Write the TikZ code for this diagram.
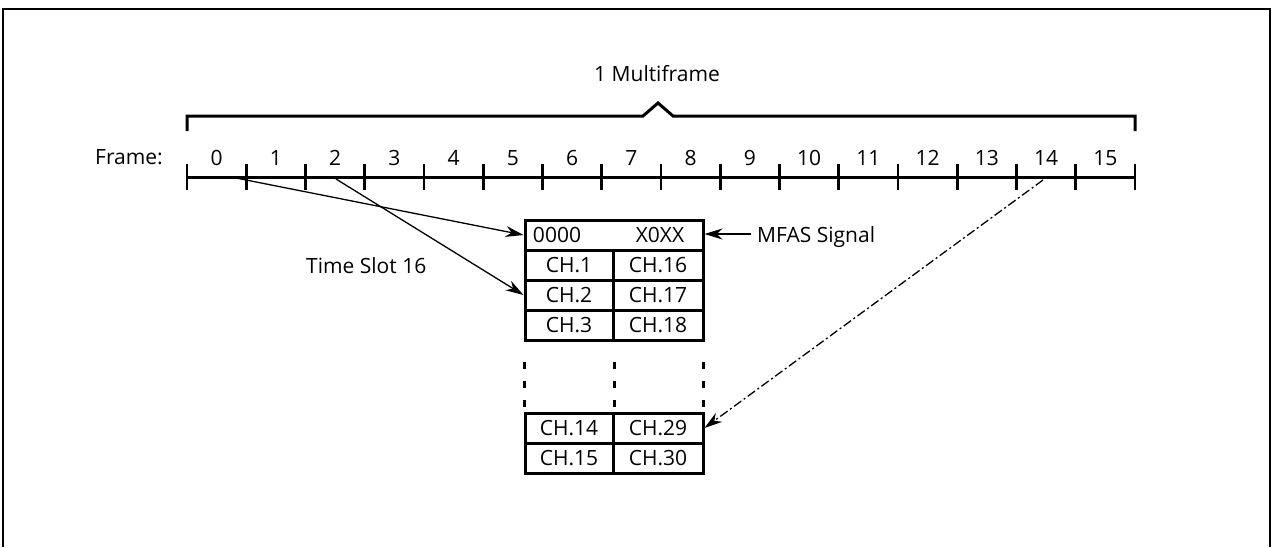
\documentclass[tikz,border=0pt]{standalone}
\usepackage{fontspec}
\setmainfont{Open Sans}
\usetikzlibrary{arrows.meta}
\begin{document}
\begin{tikzpicture}[x=1pt,y=-1pt,
  lbl/.style={font=\fontsize{21}{24}\selectfont, inner sep=0pt},
  heavy/.style={line width=3pt},
  tick/.style={line width=2.8pt},
  cell/.style={draw, line width=3pt, minimum height=30pt, inner sep=0pt,
               font=\fontsize{21}{24}\selectfont},
  ptr/.style={line width=1.3pt, -{Stealth[length=18pt,width=11pt]}},
  dashv/.style={line width=2.4pt, dash pattern=on 7pt off 12pt}]
\useasboundingbox (0,0) rectangle (1274,547);
% outer frame
\draw[line width=2.2pt] (3,547) -- (3,9) -- (1270,9) -- (1270,547);
% bracket
\draw[heavy] (187,131) -- (187,116) -- (643,116) -- (658,103) -- (673,116) -- (1135,116) -- (1135,131);
\node[lbl, anchor=base] (mf) at (657,81) {1 Multiframe};
% timeline
\node[lbl, anchor=base east] (frm) at (163,164) {Frame:};
\draw[heavy] (187,177) -- (1135,177);
\foreach \i in {0,...,16} {
  \coordinate (t\i) at ({187+59.25*\i},177);
  \draw[tick] ({187+59.25*\i},164) -- ({187+59.25*\i},190);
}
\foreach \i in {0,...,15} {
  \node[lbl, anchor=base] (f\i) at ({187+59.25*(\i+0.5)},165) {\i};
}
\coordinate (s0) at (236,178);
\coordinate (s2) at (336,179);
\coordinate (s14) at (1043,180);
% table
\node[cell, minimum width=178pt] (mfas) at (614,235) {};
\node[font=\fontsize{21}{24}\selectfont, inner sep=0pt] (z) at (557,235) {0000};
\node[font=\fontsize{21}{24}\selectfont, inner sep=0pt] (x) at (660,235) {X0XX};
\node[cell, minimum width=88pt] (c1) at (569,265) {CH.1};
\node[cell, minimum width=90pt] (c16) at (658,265) {CH.16};
\node[cell, minimum width=88pt] (c2) at (569,295) {CH.2};
\node[cell, minimum width=90pt] (c17) at (658,295) {CH.17};
\node[cell, minimum width=88pt] (c3) at (569,325) {CH.3};
\node[cell, minimum width=90pt] (c18) at (658,325) {CH.18};
\node[cell, minimum width=88pt] (c14) at (569,428) {CH.14};
\node[cell, minimum width=90pt] (c29) at (658,428) {CH.29};
\node[cell, minimum width=88pt] (c15) at (569,458) {CH.15};
\node[cell, minimum width=90pt] (c30) at (658,458) {CH.30};
% dashed continuation
\draw[dashv] (c3.south west) ++(1,20) -- ++(0,52);
\draw[dashv] (c3.south east) ++(0,20) -- ++(0,52);
\draw[dashv] (c18.south east) ++(-1,20) -- ++(0,52);
% labels
\node[lbl, anchor=base west] (ts) at (306,273) {Time Slot 16};
\node[lbl, anchor=base west] (sig) at (757,242) {MFAS Signal};
\coordinate (sigs) at (751,234);
% arrows
\draw[ptr] (s0) -- (mfas.west);
\draw[ptr] (s2) -- (c2.west);
\draw[ptr, dash pattern=on 9pt off 3pt on 2pt off 3pt] (s14) -- (c29.east);
\draw[line width=1.8pt, -{Stealth[length=18pt,width=11pt]}] (sigs) -- (mfas.east |- sigs);
\end{tikzpicture}
\end{document}
